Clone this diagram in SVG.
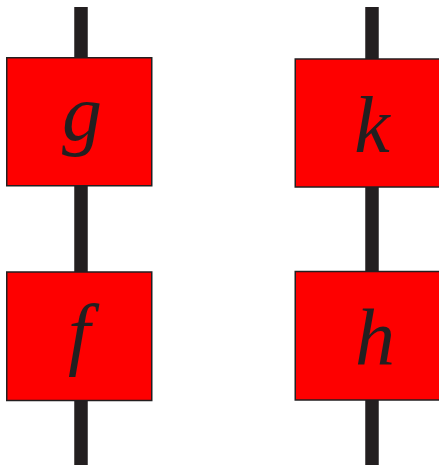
<svg xmlns="http://www.w3.org/2000/svg" width="439" height="465" viewBox="0 0 439 465">
<style>
.wire{stroke:#231f20;stroke-width:13.5;fill:none}
.box{fill:#fe0000;stroke:#231f20;stroke-width:1.5}
.lbl{font-family:"Liberation Serif","Times New Roman",serif;font-style:italic;font-size:80px;fill:#231f20;text-anchor:middle}
</style>
<g id="connectors">
<line class="wire" x1="81" y1="7" x2="81" y2="60"/>
<line class="wire" x1="81" y1="184" x2="81" y2="274"/>
<line class="wire" x1="81" y1="398" x2="81" y2="465"/>
<line class="wire" x1="372" y1="7" x2="372" y2="61"/>
<line class="wire" x1="372" y1="185" x2="372" y2="273"/>
<line class="wire" x1="372" y1="397" x2="372" y2="465"/>
</g>
<g id="g">
<rect class="box" x="6.75" y="57.75" width="145" height="128"/>
<text class="lbl" x="82" y="140">g</text>
</g>
<g id="f">
<rect class="box" x="6.75" y="272" width="145" height="128.5"/>
<text class="lbl" x="79" y="360">f</text>
</g>
<g id="k">
<rect class="box" x="295.25" y="59" width="145" height="128"/>
<text class="lbl" x="372" y="152">k</text>
</g>
<g id="h">
<rect class="box" x="295.25" y="271.5" width="145" height="128.5"/>
<text class="lbl" x="375" y="364">h</text>
</g>
</svg>
